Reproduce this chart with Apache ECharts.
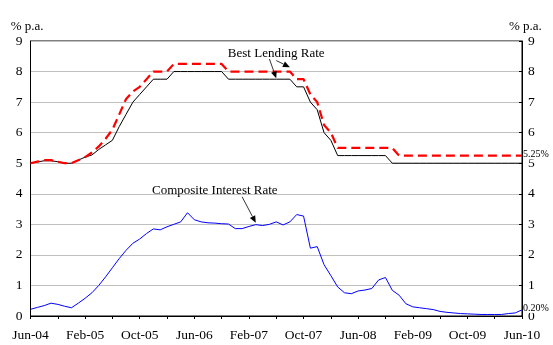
<!DOCTYPE html>
<html>
<head>
<meta charset="utf-8">
<script src="https://cdn.jsdelivr.net/npm/echarts@6/dist/echarts.min.js"></script>
<style>html,body{margin:0;padding:0;background:#fff}#c{width:553px;height:345px}</style>
</head>
<body>
<div id="c"></div>
<script>
// Monthly categories Jun-04 .. Jun-10
var monthNames = ['Jan','Feb','Mar','Apr','May','Jun','Jul','Aug','Sep','Oct','Nov','Dec'];
var categories = [];
for (var i = 0; i < 73; i++) {
  var mi = (5 + i) % 12, yr = 4 + Math.floor((5 + i) / 12);
  categories.push(monthNames[mi] + '-' + (yr < 10 ? '0' + yr : '' + yr));
}
var yTicks = [0,1,2,3,4,5,6,7,8,9];

// Best lending rate (lower, solid black)
var blrLow = [5.0,5.04,5.08,5.08,5.05,5.0,5.0,5.1,5.2,5.27,5.45,5.6,5.75,6.2,6.6,7.0,7.25,7.5,7.75,7.75,7.75,
  8.0,8.0,8.0,8.0,8.0,8.0,8.0,8.0,7.75,7.75,7.75,7.75,7.75,7.75,7.75,7.75,7.75,7.75,7.5,7.5,7.0,6.75,6.0,5.75,
  5.25,5.25,5.25,5.25,5.25,5.25,5.25,5.25,5.0,5.0,5.0,5.0,5.0,5.0,5.0,5.0,5.0,5.0,5.0,5.0,5.0,5.0,5.0,5.0,5.0,5.0,5.0,5.0];
// Best lending rate (upper, dashed red)
var blrHigh = [5.0,5.05,5.1,5.1,5.05,5.0,5.0,5.1,5.2,5.35,5.55,5.8,6.1,6.6,7.1,7.35,7.5,7.75,8.0,8.0,8.0,
  8.25,8.25,8.25,8.25,8.25,8.25,8.25,8.25,8.0,8.0,8.0,8.0,8.0,8.0,8.0,8.0,8.0,8.0,7.75,7.75,7.25,7.0,6.25,6.0,
  5.5,5.5,5.5,5.5,5.5,5.5,5.5,5.5,5.5,5.25,5.25,5.25,5.25,5.25,5.25,5.25,5.25,5.25,5.25,5.25,5.25,5.25,5.25,5.25,5.25,5.25,5.25,5.25];
// Composite interest rate (blue)
var composite = [0.22,0.28,0.34,0.42,0.38,0.32,0.27,0.42,0.58,0.76,1.0,1.28,1.58,1.88,2.15,2.38,2.52,2.70,2.85,2.82,2.92,
  3.0,3.08,3.38,3.15,3.08,3.05,3.04,3.02,3.01,2.86,2.86,2.93,2.99,2.96,3.0,3.08,2.98,3.08,3.32,3.27,2.22,2.27,1.68,1.32,
  0.95,0.76,0.73,0.82,0.85,0.90,1.18,1.26,0.84,0.68,0.40,0.30,0.27,0.24,0.21,0.15,0.12,0.10,0.08,0.07,0.06,0.05,0.05,0.05,0.05,0.08,0.10,0.20];

var FONT = 'Liberation Serif';
var chart = echarts.init(document.getElementById('c'), null, {renderer: 'canvas'});

function yAxisDef(pos) {
  return {
    type: 'value', position: pos, min: 0, max: 9, interval: 1,
    axisLine: {show: true, lineStyle: {color: '#000', width: 1}},
    axisTick: {show: pos === 'right', inside: true, length: 3, lineStyle: {color: '#000'}},
    axisLabel: {color: '#000', fontFamily: FONT, fontSize: 13.5, margin: pos === 'right' ? 6 : 8,
      formatter: function (v) { return yTicks.indexOf(v) >= 0 ? String(v) : ''; }},
    splitLine: {show: pos === 'left', lineStyle: {color: '#c0c0c0', width: 1}},
    name: '% p.a.', nameLocation: 'end', nameGap: 8,
    nameTextStyle: {color: '#000', fontFamily: FONT, fontSize: 13, align: pos === 'left' ? 'right' : 'left',
      padding: pos === 'left' ? [0, -13, 0, 0] : [0, 0, 0, -13]}
  };
}

chart.setOption({
  animation: false,
  grid: {left: 30.5, right: 31, top: 41, bottom: 29, show: true, borderColor: '#000', borderWidth: 1, containLabel: false},
  xAxis: {
    type: 'category', data: categories, boundaryGap: false,
    axisLine: {show: true, lineStyle: {color: '#000', width: 1}},
    axisTick: {show: true, interval: 3, length: 3, lineStyle: {color: '#000'}},
    axisLabel: {interval: 7, color: '#000', fontFamily: FONT, fontSize: 13.5, margin: 12},
    splitLine: {show: false}
  },
  yAxis: [yAxisDef('left'), yAxisDef('right')],
  series: [
    {type: 'line', name: 'Composite', data: composite, symbol: 'none', lineStyle: {color: '#0000ff', width: 1}, z: 3},
    {type: 'line', name: 'BLR low', data: blrLow, symbol: 'none', lineStyle: {color: '#000', width: 1}, z: 4},
    {type: 'line', name: 'BLR high', data: blrHigh, symbol: 'none', lineStyle: {color: '#ff0000', width: 2.2, type: [9, 5]}, z: 5}
  ]
});

function px(idx, val) { return chart.convertToPixel({xAxisIndex: 0, yAxisIndex: 0}, [idx, val]); }

function arrow(a, b) {
  var p0 = px(a[0], a[1]), p1 = px(b[0], b[1]);
  var dx = p1[0] - p0[0], dy = p1[1] - p0[1], L = Math.sqrt(dx * dx + dy * dy);
  var ux = dx / L, uy = dy / L, hl = 7, hw = 3;
  var bx = p1[0] - ux * hl, by = p1[1] - uy * hl;
  return [
    {type: 'line', shape: {x1: p0[0], y1: p0[1], x2: bx, y2: by}, style: {stroke: '#333', lineWidth: 1}, z: 10},
    {type: 'polygon', shape: {points: [[p1[0], p1[1]], [bx - uy * hw, by + ux * hw], [bx + uy * hw, by - ux * hw]]},
      style: {fill: '#000'}, z: 10}
  ];
}

var last = categories.length - 1;
var pBLR = px(35.8, 8.58), pCIR = px(27.3, 4.12);
var p525 = px(last, blrHigh[last]), p020 = px(last, composite[last]);
var g = [
  {type: 'text', x: pBLR[0], y: pBLR[1], style: {text: 'Best Lending Rate', fontFamily: FONT, fontSize: 13, fill: '#000', align: 'center', verticalAlign: 'middle'}, z: 10},
  {type: 'text', x: pCIR[0], y: pCIR[1], style: {text: 'Composite Interest Rate', fontFamily: FONT, fontSize: 13, fill: '#000', align: 'center', verticalAlign: 'middle'}, z: 10},
  {type: 'text', x: p525[0] + 1, y: p525[1] - 1, style: {text: '5.25%', fontFamily: FONT, fontSize: 10, fill: '#000', align: 'left', verticalAlign: 'middle', backgroundColor: '#fff'}, z: 10},
  {type: 'text', x: p020[0] + 1, y: p020[1] - 2, style: {text: '0.20%', fontFamily: FONT, fontSize: 10, fill: '#000', align: 'left', verticalAlign: 'middle', backgroundColor: '#fff'}, z: 10}
];
g = g.concat(arrow([35.1, 8.41], [36.0, 7.78]));
g = g.concat(arrow([36.2, 8.36], [38.3, 8.14]));
g = g.concat(arrow([30.7, 3.9], [32.7, 3.05]));
chart.setOption({graphic: g});
</script>
</body>
</html>
